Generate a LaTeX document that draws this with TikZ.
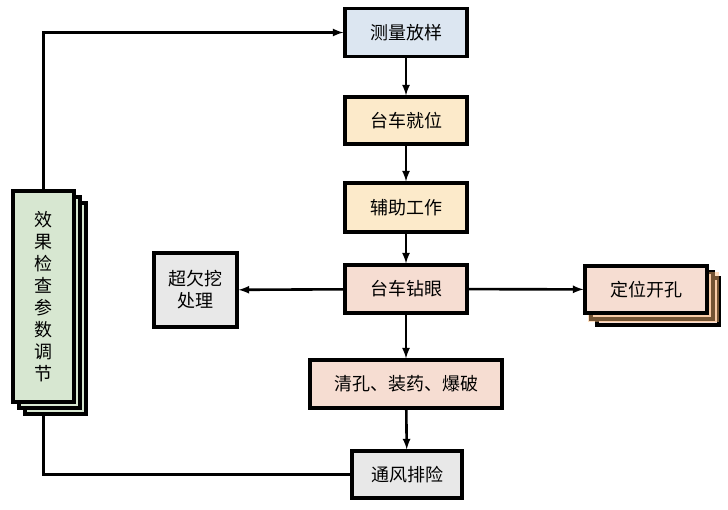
\documentclass[tikz,border=0pt]{standalone}
\usepackage{fontspec}
\setmainfont{Noto Sans CJK SC}
\usepackage{tikz}
\usetikzlibrary{calc,shapes,arrows,shadows}

\definecolor{boxblue}{HTML}{DCE6F1}
\definecolor{boxyellow}{HTML}{FCEACA}
\definecolor{boxpink}{HTML}{F6DDD2}
\definecolor{boxgray}{HTML}{E8E8E8}
\definecolor{boxgreen}{HTML}{D7E7D1}

\tikzset{
    stepbox/.style={draw=black, line width=3.2pt, minimum width=122pt, minimum height=48pt,
        inner sep=2pt, font=\fontsize{18pt}{22pt}\selectfont, align=center},
    stackbox/.style={stepbox, double copy shadow={shadow xshift=6pt, shadow yshift=-6pt}},
    flow/.style={line width=2.6pt, black}
}

\begin{document}
\begin{tikzpicture}[x=1pt,y=-1pt]
        \useasboundingbox (0,0) rectangle (728,509);
        % main chain
        \node[stepbox, fill=boxblue] (cl) at (406,32.5) {测量放样};
        \node[stepbox, fill=boxyellow, minimum height=47pt] (jw) at (406,120.5) {台车就位};
        \node[stepbox, fill=boxyellow, minimum height=49pt] (fz) at (406,207.5) {辅助工作};
        \node[stepbox, fill=boxpink] (zy) at (406,289) {台车钻眼};
        \node[stepbox, fill=boxpink, minimum width=192pt] (bp) at (406,384) {清孔、装药、爆破};
        \node[stepbox, fill=boxgray, minimum width=110pt, minimum height=47pt] (tf) at (407,474.5) {通风排险};
        % side boxes
        \node[stepbox, fill=boxgray, minimum width=83pt, minimum height=74pt] (cq) at (195.5,290) {超欠挖\\处理};
        \node[stackbox, fill=boxpink, minimum height=47pt,
            general shadow={shadow xshift=7pt, shadow yshift=-7pt, shadow scale=1.08,
            fill=orange!55, opacity=.45}] (dw) at (646,289.5) {定位开孔};
        \node[stackbox, fill=boxgreen, minimum width=61pt, minimum height=211pt] (xg) at (43.5,296.5)
            {效\\果\\检\\查\\参\\数\\调\\节};

        \draw[flow, -latex] (cl) -- (jw);
        \draw[flow, -latex] (jw) -- (fz);
        \draw[flow, -latex] (fz) -- (zy);
        \draw[flow, -latex] (zy) -- (bp);
        \draw[flow, -latex] (bp) -- (tf);
        \draw[flow, -latex] (zy) -- (cq);
        \draw[flow, -latex] (zy) -- (dw);
        \draw[flow, -latex] (xg.north) |- (cl.west);
        \draw[flow] (tf.west) -| ($(xg.south)+(0,11)$);
    \end{tikzpicture}
\end{document}
